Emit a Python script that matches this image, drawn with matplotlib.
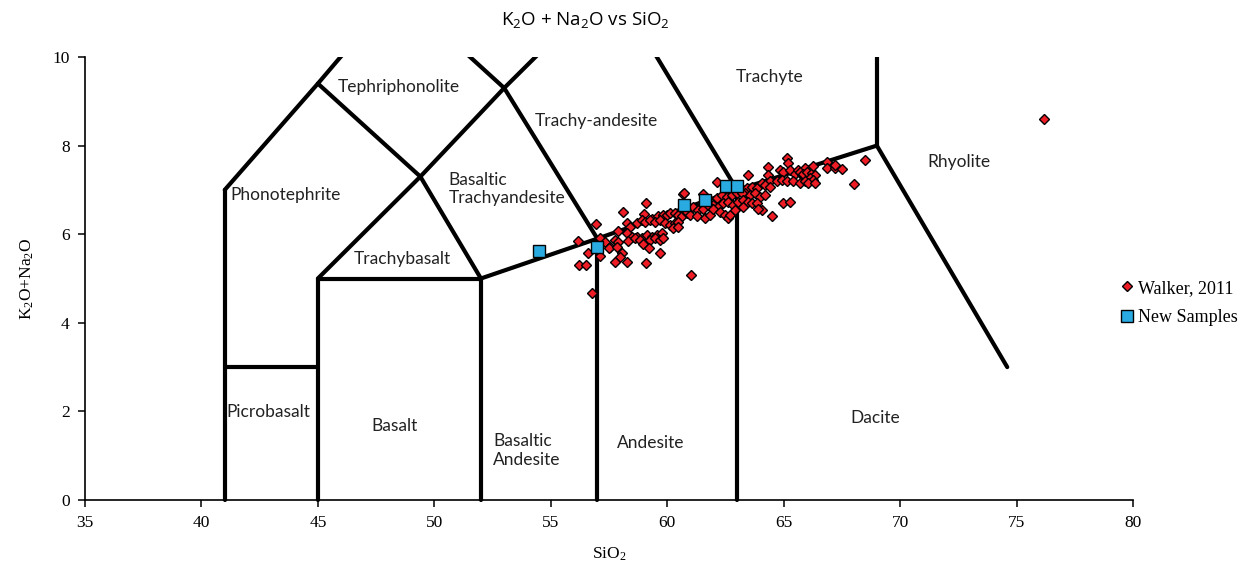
import matplotlib
matplotlib.use("Agg")
import matplotlib.pyplot as plt

plt.rcParams['mathtext.default'] = 'regular'

# ---- data ----
walker_sio2 = [
    59.09, 58.11, 60.69, 56.94,
    59.00, 59.33, 59.62, 59.83, 59.98, 60.12, 60.33, 60.47, 60.62, 60.83,
    58.26, 58.40, 58.69, 58.90, 59.04, 59.26, 59.47, 59.69, 59.90, 60.12, 60.33, 60.47,
    57.89, 58.26, 58.47, 58.69, 58.90, 59.12, 59.33, 59.55, 59.76, 60.26, 60.47,
    56.18,
    57.11, 57.33, 57.54, 57.76, 57.90, 58.33, 58.62, 58.83, 58.97, 59.26, 59.47, 59.69, 59.83,
    56.61, 57.11,
    57.51, 57.83, 58.04, 57.97, 57.76, 58.26, 59.09, 59.23, 59.69,
    56.22, 56.51, 56.75, 61.00,
    60.72, 61.52, 62.12, 63.48, 64.34, 64.34, 65.13, 65.20,
    64.84, 64.98, 65.27, 65.48, 65.63, 65.77, 65.91, 65.99,
    64.41, 64.70, 64.91, 65.13, 65.41, 65.70, 66.06,
    63.41, 63.62, 63.84, 64.05, 64.20, 64.41,
    63.34, 63.55, 63.77, 63.98, 64.20,
    62.12, 62.34, 62.55, 62.77, 62.98, 63.19,
    61.98, 62.19, 62.41, 62.62, 62.84, 63.05, 63.27, 63.48, 63.62,
    61.12, 61.33, 61.55, 61.76,
    60.83, 60.98, 61.26, 61.62, 61.84, 61.98,
    62.26, 62.48, 62.62, 62.69, 62.91, 63.27,
    63.84, 64.05, 63.91, 64.48, 64.98, 65.27,
    65.70, 65.84, 65.99, 66.20, 66.34, 66.13, 66.27, 65.91, 66.06, 66.34,
    66.27, 66.85, 66.85, 67.20, 67.20, 67.49, 68.49, 68.00,
    76.18,
]
walker_alk = [
    6.70, 6.51, 6.91, 6.23,
    6.46, 6.34, 6.40, 6.43, 6.43, 6.47, 6.47, 6.43, 6.40, 6.47,
    6.25, 6.16, 6.25, 6.32, 6.28, 6.32, 6.28, 6.32, 6.25, 6.21, 6.25, 6.28,
    6.08, 6.02, 5.94, 5.94, 5.91, 5.98, 5.94, 5.98, 6.02, 6.13, 6.17,
    5.85,
    5.91, 5.83, 5.72, 5.88, 5.83, 5.85, 5.91, 5.87, 5.79, 5.88, 5.91, 5.87, 5.91,
    5.57, 5.51,
    5.68, 5.72, 5.57, 5.49, 5.38, 5.38, 5.34, 5.68, 5.58,
    5.30, 5.30, 4.68, 5.07,
    6.92, 6.91, 7.17, 7.34, 7.52, 7.34, 7.71, 7.61,
    7.45, 7.41, 7.45, 7.37, 7.45, 7.34, 7.49, 7.37,
    7.21, 7.19, 7.22, 7.19, 7.19, 7.16, 7.19,
    7.04, 7.07, 7.04, 7.15, 7.11, 7.07,
    6.92, 6.88, 6.92, 6.85, 6.88,
    6.81, 6.88, 6.85, 6.88, 6.92, 6.92,
    6.66, 6.62, 6.70, 6.73, 6.66, 6.73, 6.77, 6.73, 6.70,
    6.62, 6.55, 6.58, 6.66,
    6.51, 6.43, 6.40, 6.36, 6.43, 6.56,
    6.49, 6.43, 6.36, 6.43, 6.55, 6.62,
    6.70, 6.55, 6.58, 6.40, 6.70, 6.73,
    7.41, 7.37, 7.41, 7.39, 7.34, 7.26, 7.22, 7.19, 7.15, 7.16,
    7.54, 7.64, 7.49, 7.49, 7.56, 7.47, 7.67, 7.13,
    8.60,
]
new_sio2 = [54.49, 56.98, 60.72, 61.62, 62.52, 62.99]
new_alk = [5.62, 5.71, 6.66, 6.77, 7.09, 7.09]

# TAS field boundaries (SiO2, alkali) polylines
boundaries = [
    [(41, 0), (41, 7)],
    [(41, 3), (45, 3)],
    [(45, 0), (45, 5)],
    [(45, 5), (52, 5)],
    [(52, 0), (52, 5)],
    [(52, 5), (57, 5.9), (63, 7), (69, 8)],
    [(57, 0), (57, 5.9)],
    [(63, 0), (63, 7)],
    [(69, 8), (69, 12)],
    [(69, 8), (74.6, 3)],
    [(41, 7), (45, 9.4), (48.4, 11.5)],
    [(45, 9.4), (49.4, 7.3), (52, 5)],
    [(45, 5), (49.4, 7.3), (53, 9.3), (57.6, 11.7)],
    [(48.4, 11.5), (53, 9.3), (57, 5.9)],
    [(57.6, 11.7), (63, 7)],
]

field_names = ["Tephriphonolite", "Trachyte", "Trachy-andesite", "Phonotephrite",
               "Basaltic\nTrachyandesite", "Rhyolite", "Trachybasalt", "Picrobasalt",
               "Basalt", "Basaltic\nAndesite", "Andesite", "Dacite"]
field_x = [48.48, 64.41, 56.94, 43.63, 50.6, 72.53, 48.61, 42.86, 48.27, 52.52, 59.30, 68.92]
field_y = [9.32, 9.55, 8.56, 6.88, 7.02, 7.63, 5.44, 1.99, 1.67, 1.12, 1.29, 1.85]
field_ha = ["center", "center", "center", "center", "left", "center", "center",
            "center", "center", "left", "center", "center"]
field_ls = [1.2, 1.2, 1.2, 1.2, 1.1, 1.2, 1.2, 1.2, 1.2, 1.25, 1.2, 1.2]

x_ticks = [35, 40, 45, 50, 55, 60, 65, 70, 75, 80]
y_ticks = [0, 2, 4, 6, 8, 10]

# ---- figure ----
fig = plt.figure(figsize=(12.49, 5.65), dpi=100)
ax = fig.add_axes([85 / 1249, 1 - 500 / 565, (1133 - 85) / 1249, (500 - 57) / 565])
ax.set_xlim(35, 80)
ax.set_ylim(0, 10)

for seg in boundaries:
    xs = [p[0] for p in seg]
    ys = [p[1] for p in seg]
    clip = max(ys) > 10
    ax.plot(xs, ys, color='black', lw=3.0, solid_capstyle='round',
            solid_joinstyle='miter', clip_on=clip, zorder=2)

for name, x, y, ha, ls in zip(field_names, field_x, field_y, field_ha, field_ls):
    ax.text(x, y, name, ha=ha, va='center', fontsize=12.5, family='Lato',
            color='#222222', linespacing=ls, zorder=3)

ax.plot(walker_sio2, walker_alk, linestyle='none', marker='D', markersize=5.5,
        markerfacecolor='#ee1c24', markeredgecolor='black', markeredgewidth=1.0,
        label='Walker, 2011', zorder=4)
ax.plot(new_sio2, new_alk, linestyle='none', marker='s', markersize=8.5,
        markerfacecolor='#29abe2', markeredgecolor='black', markeredgewidth=1.0,
        label='New Samples', zorder=5)

ax.spines['top'].set_visible(False)
ax.spines['right'].set_visible(False)
ax.spines['left'].set_linewidth(1.2)
ax.spines['bottom'].set_linewidth(1.2)
ax.set_xticks(x_ticks)
ax.set_yticks(y_ticks)
ax.tick_params(direction='out', length=5, width=1.1, labelsize=12.5, pad=6)
for lbl in ax.get_xticklabels() + ax.get_yticklabels():
    lbl.set_family('Liberation Serif')

ax.set_xlabel('SiO$_2$', fontsize=12.5, family='Liberation Serif', labelpad=10)
ax.set_ylabel('K$_2$O+Na$_2$O', fontsize=12.5, family='Liberation Serif', labelpad=12)

fig.text(585 / 1249, 1 - 20 / 565, 'K$_2$O + Na$_2$O vs SiO$_2$', ha='center', va='center',
         fontsize=13.5, family='Open Sans')

leg = fig.legend(loc='center left', bbox_to_anchor=(1112 / 1249, 1 - 303 / 565),
                 frameon=False, handlelength=0.7, handletextpad=0.25,
                 labelspacing=0.7, borderpad=0,
                 prop={'family': 'Liberation Serif', 'size': 13})

fig.savefig('out.png', dpi=100)
